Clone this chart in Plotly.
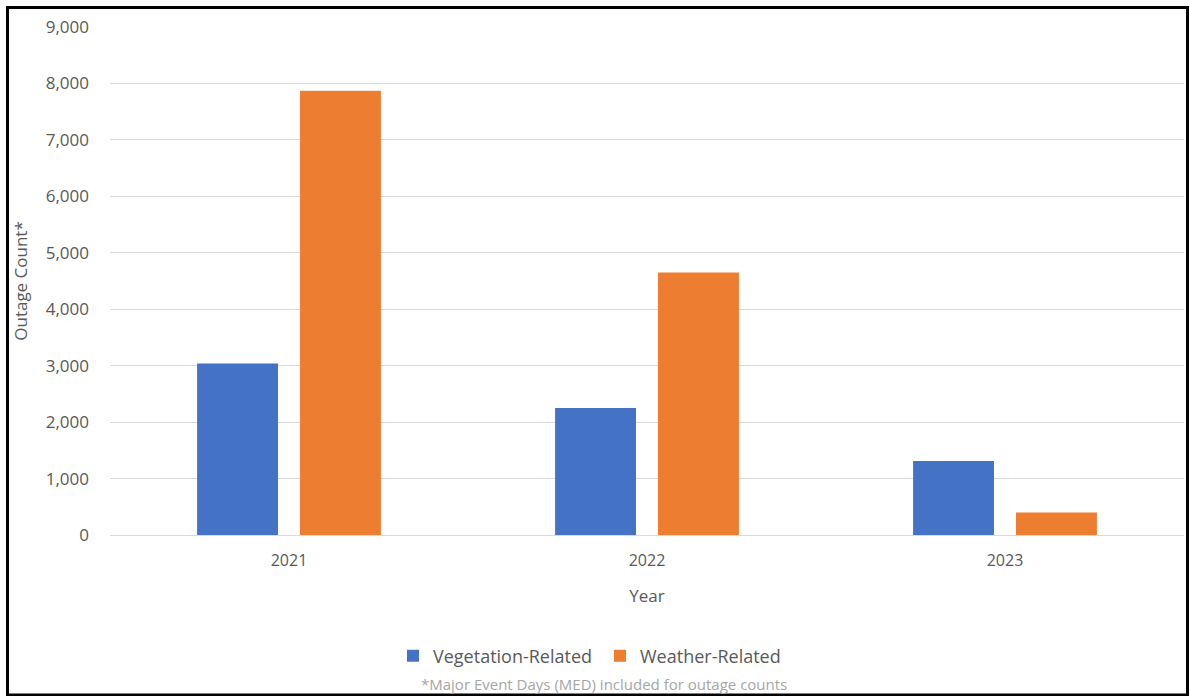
import plotly.graph_objects as go

years = ["2021", "2022", "2023"]
vegetation = [3040, 2250, 1310]
weather = [7870, 4650, 400]

W, H = 1190, 696
ML, MR, MT, MB = 110, 6, 27, 161
PW, PH = W - ML - MR, H - MT - MB


def px_x(px):
    return (px - ML) / PW


def px_y(py):
    return (H - MB - py) / PH


FONT = "Open Sans, Liberation Sans, sans-serif"
TICK_GRAY = "#595959"

fig = go.Figure()
fig.add_trace(go.Bar(name="Vegetation-Related", x=years, y=vegetation,
                     marker=dict(color="#4472C4", line=dict(width=0))))
fig.add_trace(go.Bar(name="Weather-Related", x=years, y=weather,
                     marker=dict(color="#ED7D31", line=dict(width=0))))

fig.update_layout(
    width=W, height=H,
    margin=dict(l=ML, r=MR, t=MT, b=MB, autoexpand=False),
    paper_bgcolor="white", plot_bgcolor="white",
    barmode="group", bargap=0.425, bargroupgap=0.214,
    font=dict(family=FONT, color=TICK_GRAY, size=16),
    showlegend=True,
    legend=dict(orientation="h", x=px_x(393), xanchor="left",
                y=px_y(656), yanchor="middle",
                font=dict(size=18, color=TICK_GRAY), itemwidth=30,
                entrywidth=162, entrywidthmode="pixels",
                traceorder="normal"),
    xaxis=dict(showgrid=False, showline=False, ticks="", ticklabelstandoff=14,
               tickfont=dict(size=16, color=TICK_GRAY),
               title=dict(text="Year", font=dict(size=17, color=TICK_GRAY), standoff=20)),
    yaxis=dict(range=[0, 9000], dtick=1000, tickformat=",d",
               showgrid=True, gridcolor="#d9d9d9", gridwidth=1,
               zeroline=True, zerolinecolor="#d9d9d9", zerolinewidth=1,
               showline=False, ticks="", ticklabelstandoff=20,
               tickfont=dict(size=17, color=TICK_GRAY),
               title=dict(text="Outage Count*", font=dict(size=17, color=TICK_GRAY), standoff=13)),
)

fig.add_annotation(text="*Major Event Days (MED) included for outage counts",
                   xref="paper", yref="paper", x=px_x(604), y=px_y(684),
                   xanchor="center", yanchor="middle", showarrow=False,
                   font=dict(size=15, color="#a6a6a6", family=FONT))

fig.add_shape(type="rect", xref="paper", yref="paper",
              x0=px_x(7.5), x1=px_x(1187.5), y0=px_y(695), y1=px_y(7.5),
              line=dict(color="black", width=3), fillcolor="rgba(0,0,0,0)", layer="above")

fig.write_html("out.html")
